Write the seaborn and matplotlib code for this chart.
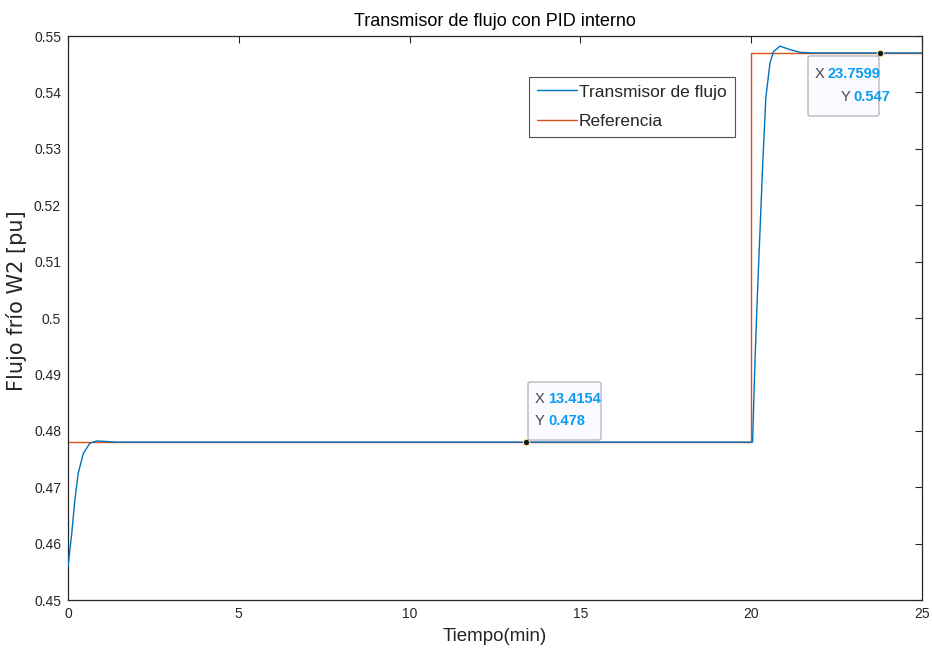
import matplotlib
matplotlib.use("Agg")
import matplotlib.pyplot as plt
import seaborn as sns
import pandas as pd
from matplotlib.patches import FancyBboxPatch

# ---- data ----
t_flow = [0.0, 0.11, 0.2, 0.3, 0.45, 0.64, 0.84, 1.13, 1.4, 2.0, 13.4154, 20.0, 20.04,
          20.11, 20.18, 20.26, 20.34, 20.43, 20.55, 20.65, 20.84, 21.13, 21.43, 21.8, 23.7599, 25.0]
y_flow = [0.4559, 0.4618, 0.4677, 0.4725, 0.4760, 0.4778, 0.4782, 0.4781, 0.4780, 0.478, 0.478, 0.478, 0.478,
          0.4922, 0.5040, 0.5158, 0.5277, 0.5392, 0.5452, 0.5472, 0.5482, 0.5476, 0.5471, 0.547, 0.547, 0.547]
t_ref = [0.0, 20.0, 20.0, 25.0]
y_ref = [0.478, 0.478, 0.547, 0.547]
tip_x = [13.4154, 23.7599]
tip_y = [0.478, 0.547]
x_ticks = [0, 5, 10, 15, 20, 25]
y_ticks = [0.45, 0.46, 0.47, 0.48, 0.49, 0.50, 0.51, 0.52, 0.53, 0.54, 0.55]
y_tick_labels = ["0.45", "0.46", "0.47", "0.48", "0.49", "0.5", "0.51", "0.52", "0.53", "0.54", "0.55"]

sns.set_theme(style="white")
plt.rcParams['font.family'] = ['Liberation Sans', 'DejaVu Sans']

df_flow = pd.DataFrame({"t": t_flow, "y": y_flow})
df_ref = pd.DataFrame({"t": t_ref, "y": y_ref})

fig = plt.figure(figsize=(9.32, 6.62), dpi=100)
ax = fig.add_axes([68/932, 62/662, 854/932, 564/662])

blue = "#0072BD"
orange = "#D95319"
sns.lineplot(data=df_ref, x="t", y="y", ax=ax, color=orange, lw=1.0, label="Referencia",
             sort=False, estimator=None, zorder=2)
sns.lineplot(data=df_flow, x="t", y="y", ax=ax, color=blue, lw=1.0, label="Transmisor de flujo",
             sort=False, estimator=None, zorder=3)

ax.set_xlim(0, 25)
ax.set_ylim(0.45, 0.55)
ax.set_xticks(x_ticks)
ax.set_xticklabels([str(v) for v in x_ticks])
ax.set_yticks(y_ticks)
ax.set_yticklabels(y_tick_labels)
ax.tick_params(direction="in", top=True, right=True, length=5, width=0.8,
               labelsize=10, colors="#262626", pad=5)
for s in ax.spines.values():
    s.set_color("#262626")
    s.set_linewidth(0.9)

ax.set_title("Transmisor de flujo con PID interno", fontsize=13, color="#000000", pad=7)
ax.set_xlabel("Tiempo(min)", fontsize=13.5, color="#262626", labelpad=5)
ax.set_ylabel("Flujo frío W2 [pu]", fontsize=15, color="#262626", family=['DejaVu Sans'])
ax.yaxis.set_label_coords((27 - 68) / 854, (600 - 300.5) / 564)

# legend: order flow then ref
h, l = ax.get_legend_handles_labels()
order = [l.index("Transmisor de flujo"), l.index("Referencia")]
leg = ax.legend([h[i] for i in order], [l[i] for i in order], loc="upper left",
                bbox_to_anchor=(0.540, 0.928), frameon=True, fancybox=False,
                prop={'size': 12.5}, handlelength=2.3, handletextpad=0.12,
                borderpad=0.45, labelspacing=0.85, borderaxespad=0)
leg.get_frame().set_edgecolor("#262626")
leg.get_frame().set_linewidth(0.8)

# data tip markers
ax.scatter(tip_x, tip_y, s=22, color="#1a1a1a", edgecolors="#f5e9a0", linewidths=0.8, zorder=6)

PX_X = 854 / 25.0
PX_Y = 5640.0

def tipbox(x0, y0, w, h):
    box = FancyBboxPatch((x0, y0), w, h, boxstyle="round,pad=0,rounding_size=0.08",
                         mutation_aspect=0.004, fc="#fbfbff", ec="#b8b8c0", lw=1.0, zorder=7)
    ax.add_patch(box)

# tip 1 box: px x 528-601, y 382-440
x0 = (528 - 68) / PX_X; w1 = 73 / PX_X
y0 = 0.55 - (440 - 36) / PX_Y; h1 = 58 / PX_Y
tipbox(x0, y0, w1, h1)
ax.text(x0 + 0.2, y0 + h1 * 0.70, "X", ha="left", va="center", fontsize=10.5, color="#444444", zorder=8)
ax.text(x0 + 0.6, y0 + h1 * 0.70, "13.4154", ha="left", va="center", fontsize=10.5, color="#0a9cf0",
        fontweight="bold", zorder=8)
ax.text(x0 + 0.2, y0 + h1 * 0.32, "Y", ha="left", va="center", fontsize=10.5, color="#444444", zorder=8)
ax.text(x0 + 0.6, y0 + h1 * 0.32, "0.478", ha="left", va="center", fontsize=10.5, color="#0a9cf0",
        fontweight="bold", zorder=8)

# tip 2 box: px x 808-879, y 56-116
x0 = (808 - 68) / PX_X; w2 = 71 / PX_X
y0 = 0.55 - (116 - 36) / PX_Y; h2 = 60 / PX_Y
tipbox(x0, y0, w2, h2)
ax.text(x0 + 0.2, y0 + h2 * 0.70, "X", ha="left", va="center", fontsize=10.5, color="#444444", zorder=8)
ax.text(x0 + 0.58, y0 + h2 * 0.70, "23.7599", ha="left", va="center", fontsize=10.5, color="#0a9cf0",
        fontweight="bold", zorder=8)
ax.text(x0 + 0.95, y0 + h2 * 0.32, "Y", ha="left", va="center", fontsize=10.5, color="#444444", zorder=8)
ax.text(x0 + 1.33, y0 + h2 * 0.32, "0.547", ha="left", va="center", fontsize=10.5, color="#0a9cf0",
        fontweight="bold", zorder=8)

fig.savefig("out.png", dpi=100, facecolor="white")
